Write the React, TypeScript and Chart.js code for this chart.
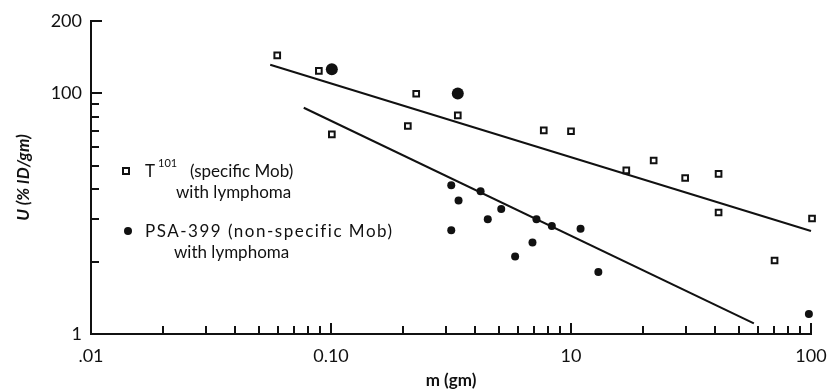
import React, { useEffect, useRef } from 'react';
import { Chart, registerables } from 'chart.js';

Chart.register(...registerables);

// ---- axis ticks ----
const xMajorTicks = [0.01, 0.1, 1, 10];
const xTickLabels = ['.01', '0.10', '10', '100'];
const yMajorTicks = [1, 10, 20];
const yTickLabels = ['1', '100', '200'];
const minorMultipliers = [2, 3, 4, 5, 6, 7, 8, 9];

// ---- data: T101 (specific Mab), open squares ----
const t101X = [0.0597, 0.089, 0.2265, 0.3375, 0.209, 0.1008, 0.77, 1.0, 1.7, 2.21, 2.99, 4.12, 4.12, 10.1, 7.05];
const t101Y = [14.4, 12.4, 9.97, 8.1, 7.32, 6.76, 7.02, 6.96, 4.79, 5.26, 4.45, 4.63, 3.2, 3.02, 2.02];

// ---- data: PSA-399 (non-specific Mab), filled circles ----
const psaX = [0.317, 0.42, 0.34, 0.512, 0.45, 0.317, 0.718, 0.832, 1.096, 0.691, 0.585, 1.3, 9.8];
const psaY = [4.15, 3.92, 3.59, 3.31, 3.0, 2.7, 3.0, 2.81, 2.74, 2.4, 2.1, 1.81, 1.21];
const psaLargeX = [0.1008, 0.3375];
const psaLargeY = [12.6, 10.0];

// ---- fitted lines ----
const t101FitX = [0.0558, 10];
const t101FitY = [13.15, 2.68];
const psaFitX = [0.077, 5.78];
const psaFitY = [8.72, 1.108];

// ---- legend text ----
const legendT101Main = 'T';
const legendT101Sup = '101';
const legendT101Rest = '(specific Mob)';
const legendPsaMain = 'PSA-399 (non-specific Mob)';
const legendSecondLine = 'with lymphoma';

const xTitle = 'm (gm)';
const yTitle = 'U (% ID/gm)';

const INK = '#111';
const FONT = 'Lato';

const zip = (xs: number[], ys: number[]) => xs.map((x, i) => ({ x, y: ys[i] }));

const isDecade = (m: number) => Math.abs(Math.log10(m) - Math.round(Math.log10(m))) < 1e-9;

const buildTicks = (majors: number[], max: number) => {
  const out: { value: number; major: boolean }[] = [];
  majors.forEach((m) => out.push({ value: m, major: true }));
  majors.forEach((m) => {
    if (isDecade(m)) {
      minorMultipliers.forEach((k) => {
        const v = +(m * k).toPrecision(6);
        if (v < max && !majors.includes(v)) out.push({ value: v, major: false });
      });
    }
  });
  return out.sort((a, b) => a.value - b.value);
};

const inwardTicks = {
  id: 'inwardTicks',
  afterDraw(chart: any) {
    const { ctx, chartArea, scales } = chart;
    ctx.save();
    ctx.strokeStyle = INK;
    ctx.lineWidth = 2;
    scales.x.ticks.forEach((t: any) => {
      const px = Math.round(scales.x.getPixelForValue(t.value));
      const len = t.major ? 11 : 8;
      ctx.beginPath();
      ctx.moveTo(px, chartArea.bottom);
      ctx.lineTo(px, chartArea.bottom - len);
      ctx.stroke();
    });
    scales.y.ticks.forEach((t: any) => {
      const py = Math.round(scales.y.getPixelForValue(t.value));
      const len = t.major ? 11 : 8;
      ctx.beginPath();
      ctx.moveTo(chartArea.left, py);
      ctx.lineTo(chartArea.left + len, py);
      ctx.stroke();
    });
    ctx.restore();
  },
};

const inlineLegend = {
  id: 'inlineLegend',
  afterDraw(chart: any) {
    const { ctx, chartArea } = chart;
    const L = chartArea.left;
    const T = chartArea.top;
    ctx.save();
    // square marker
    ctx.lineWidth = 2;
    ctx.strokeStyle = INK;
    ctx.fillStyle = '#fff';
    ctx.beginPath();
    ctx.rect(L + 35 - 3, T + 150 - 3, 6, 6);
    ctx.fill();
    ctx.stroke();
    // text entry 1
    ctx.fillStyle = INK;
    ctx.textBaseline = 'alphabetic';
    ctx.textAlign = 'left';
    ctx.font = `17px ${FONT}`;
    const x0 = L + 54;
    ctx.fillText(legendT101Main, x0, T + 156);
    const wT = ctx.measureText(legendT101Main).width;
    ctx.font = `11px ${FONT}`;
    ctx.fillText(legendT101Sup, x0 + wT + 3, T + 146);
    ctx.font = `17px ${FONT}`;
    ctx.fillText(legendT101Rest, L + 99, T + 156);
    ctx.fillText(legendSecondLine, L + 85, T + 177);
    // circle marker
    ctx.beginPath();
    ctx.arc(L + 37, T + 210, 4, 0, Math.PI * 2);
    ctx.fill();
    (ctx as any).letterSpacing = '1.5px';
    ctx.fillText(legendPsaMain, x0, T + 216);
    (ctx as any).letterSpacing = '0px';
    ctx.fillText(legendSecondLine, L + 83, T + 237);
    ctx.restore();
  },
};

export default function App() {
  const ref = useRef<HTMLCanvasElement | null>(null);

  useEffect(() => {
    if (!ref.current) return;
    const xTicks = buildTicks(xMajorTicks, 10);
    const yTicks = buildTicks(yMajorTicks, 20);
    const labelFor = (majors: number[], labels: string[], v: number) => {
      const i = majors.findIndex((m) => Math.abs(m - v) / m < 1e-6);
      return i >= 0 ? labels[i] : '';
    };

    const chart = new Chart(ref.current, {
      type: 'scatter',
      data: {
        datasets: [
          {
            label: 'T101',
            data: zip(t101X, t101Y),
            pointStyle: 'rect',
            pointRadius: 4,
            pointBorderWidth: 2,
            borderColor: INK,
            backgroundColor: '#fff',
            clip: false,
          },
          {
            label: 'PSA-399',
            data: zip(psaX, psaY),
            pointStyle: 'circle',
            pointRadius: 4,
            pointBorderWidth: 0,
            borderColor: INK,
            backgroundColor: INK,
            clip: false,
          },
          {
            label: 'PSA-399 large',
            data: zip(psaLargeX, psaLargeY),
            pointStyle: 'circle',
            pointRadius: 6,
            pointBorderWidth: 0,
            borderColor: INK,
            backgroundColor: INK,
            clip: false,
          },
          {
            type: 'line',
            label: 'T101 fit',
            data: zip(t101FitX, t101FitY),
            borderColor: INK,
            borderWidth: 2,
            pointRadius: 0,
            showLine: true,
            fill: false,
            clip: false,
          },
          {
            type: 'line',
            label: 'PSA fit',
            data: zip(psaFitX, psaFitY),
            borderColor: INK,
            borderWidth: 2,
            pointRadius: 0,
            showLine: true,
            fill: false,
            clip: false,
          },
        ],
      } as any,
      options: {
        responsive: false,
        animation: false,
        devicePixelRatio: 1,
        layout: { padding: { left: 0, top: 21, right: 21, bottom: 0 } },
        plugins: {
          legend: { display: false },
          tooltip: { enabled: false },
        },
        scales: {
          x: {
            type: 'logarithmic',
            position: 'bottom',
            min: 0.01,
            max: 10,
            grid: { display: false, drawTicks: false },
            border: { display: true, color: INK, width: 2 },
            afterBuildTicks: (scale: any) => {
              scale.ticks = xTicks.map((t) => ({ ...t }));
            },
            afterFit: (scale: any) => {
              scale.height = 58;
              scale.paddingLeft = 0;
              scale.paddingRight = 0;
            },
            ticks: {
              autoSkip: false,
              maxRotation: 0,
              minRotation: 0,
              padding: 11,
              color: INK,
              font: { family: FONT, size: 18 },
              callback: (v: any) => labelFor(xMajorTicks, xTickLabels, Number(v)),
            },
            title: {
              display: true,
              text: xTitle,
              color: INK,
              font: { family: FONT, size: 17, weight: 'bold' },
              padding: { top: 0, bottom: 1 },
            },
          },
          y: {
            type: 'logarithmic',
            position: 'left',
            min: 1,
            max: 20,
            grid: { display: false, drawTicks: false },
            border: { display: true, color: INK, width: 2 },
            afterBuildTicks: (scale: any) => {
              scale.ticks = yTicks.map((t) => ({ ...t }));
            },
            afterFit: (scale: any) => {
              scale.width = 91;
              scale.paddingTop = 0;
              scale.paddingBottom = 0;
            },
            ticks: {
              autoSkip: false,
              padding: 9,
              color: INK,
              font: { family: FONT, size: 18 },
              callback: (v: any) => labelFor(yMajorTicks, yTickLabels, Number(v)),
            },
            title: {
              display: true,
              text: yTitle,
              color: INK,
              font: { family: FONT, size: 17, weight: 'bold', style: 'italic' },
              padding: { top: 13, bottom: 0 },
            },
          },
        },
      } as any,
      plugins: [inwardTicks, inlineLegend],
    });
    return () => chart.destroy();
  }, []);

  return (
    <div style={{ position: 'absolute', left: 0, top: 0, width: 832, height: 392, background: '#fff' }}>
      <canvas ref={ref} width={832} height={392} />
    </div>
  );
}
